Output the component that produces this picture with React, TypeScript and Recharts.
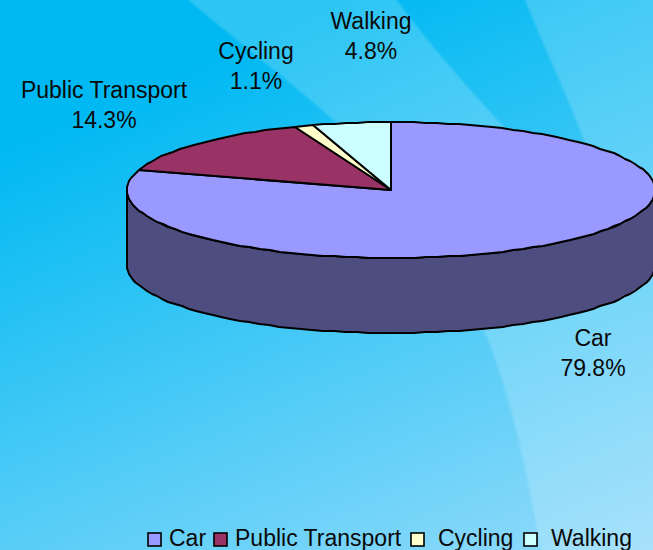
import React from 'react';
import { PieChart, Pie, Legend } from 'recharts';

const categories = ['Car', 'Public Transport', 'Cycling', 'Walking'];
const shares = [79.8, 14.3, 1.1, 4.8];
const topColors = ['#9999FF', '#993366', '#FFFFCC', '#CCFFFF'];
const sideColors = ['#4D4D80', '#4D1A33', '#808066', '#668080'];

// where each label's centre sits, [x, first baseline]
const labelSpots = [[593, 346], [104, 98], [256, 59], [371, 29]];
// legend swatch x and text x
const legendSpots = [[148, 169], [214, 235], [411, 438], [524, 551]];

const WIDTH = 653;
const HEIGHT = 550;
const SQUASH = 68 / 264;
const DEPTH = 75;
const FONT = '"Liberation Sans", Arial, sans-serif';

const topData = categories.map((name, i) => ({ name, value: shares[i], fill: topColors[i] }));
const sideData = categories.map((name, i) => ({ name, value: shares[i], fill: sideColors[i] }));

// slightly coarse polyline, like the old office renderer
const arcPoints = (cx: number, cy: number, r: number, from: number, to: number) => {
  const steps = Math.max(1, Math.ceil(Math.abs(to - from) / 2.5));
  const pts: string[] = [];
  for (let i = 0; i <= steps; i++) {
    const a = ((from + ((to - from) * i) / steps) * Math.PI) / 180;
    pts.push(`${Math.round(cx + r * Math.cos(a))} ${Math.round(cy - r * SQUASH * Math.sin(a))}`);
  }
  return pts;
};

const TopSlice = (props: any) => {
  const { cx, cy, outerRadius, startAngle, endAngle, fill } = props;
  const pts = arcPoints(cx, cy, outerRadius, startAngle, endAngle);
  return (
    <path
      d={`M${cx} ${cy}L${pts.join('L')}Z`}
      fill={fill}
      stroke="#000"
      strokeWidth={2}
      strokeLinejoin="round"
    />
  );
};

const SideSlice = (props: any) => {
  const { cx, cy, outerRadius, startAngle, endAngle, fill } = props;
  // only the front half of the rim can be seen
  const from = Math.min(startAngle, 0);
  const to = Math.max(endAngle, -180);
  if (from <= to) return <g />;
  const upper = arcPoints(cx, cy, outerRadius, from, to);
  const lower = arcPoints(cx, cy + DEPTH, outerRadius, to, from);
  return (
    <path
      d={`M${upper.join('L')}L${lower.join('L')}Z`}
      fill={fill}
      stroke="#000"
      strokeWidth={2}
      strokeLinejoin="round"
    />
  );
};

const renderLabel = (props: any) => {
  const i = categories.indexOf(props.name);
  const [x, y] = labelSpots[i];
  return (
    <text x={x} y={y} textAnchor="middle" fontFamily={FONT} fontSize={23} fill="#0a0a0a">
      <tspan x={x}>{props.name}</tspan>
      <tspan x={x} dy={30}>{`${props.value}%`}</tspan>
    </text>
  );
};

const LegendRow = () => (
  <svg width={WIDTH} height={30} style={{ display: 'block' }}>
    {categories.map((name, i) => (
      <g key={name}>
        <rect x={legendSpots[i][0]} y={13} width={13} height={13} fill={topColors[i]} stroke="#000" strokeWidth={1.6} />
        <text x={legendSpots[i][1]} y={26} fontFamily={FONT} fontSize={23} fill="#0a0a0a">{name}</text>
      </g>
    ))}
  </svg>
);

const Backdrop = () => (
  <svg width={WIDTH} height={HEIGHT} style={{ position: 'absolute', left: 0, top: 0 }}>
    <defs>
      <linearGradient id="sky" gradientUnits="userSpaceOnUse" x1={230} y1={50} x2={480} y2={640}>
        <stop offset="0" stopColor="#00B9F2" />
        <stop offset="1" stopColor="#98DCFB" />
      </linearGradient>
      <filter id="soft" x="-5%" y="-5%" width="110%" height="110%">
        <feGaussianBlur stdDeviation={1.2} />
      </filter>
    </defs>
    <rect width={WIDTH} height={HEIGHT} fill="url(#sky)" />
    <path
      d="M183 -5C240 45 290 80 333 120C410 195 465 280 490 345C515 410 530 490 543 560L670 560L670 -5L523 -5C545 50 565 90 580 130C595 170 605 195 615 235C580 190 540 165 507 130C465 85 430 45 393 -5Z"
      fill="#fff"
      fillOpacity={0.18}
      filter="url(#soft)"
    />
  </svg>
);

export default function App() {
  return (
    <div style={{ position: 'absolute', left: 0, top: 0, width: WIDTH, height: HEIGHT, overflow: 'hidden' }}>
      <Backdrop />
      <div style={{ position: 'absolute', left: 0, top: 0 }}>
        <PieChart width={WIDTH} height={HEIGHT} margin={{ top: 0, right: 0, bottom: 0, left: 0 }}>
          <Pie
            data={sideData}
            dataKey="value"
            nameKey="name"
            cx={391}
            cy={190}
            outerRadius={264}
            startAngle={90}
            endAngle={-270}
            shape={SideSlice}
            label={false}
            labelLine={false}
            isAnimationActive={false}
          />
          <Pie
            data={topData}
            dataKey="value"
            nameKey="name"
            cx={391}
            cy={190}
            outerRadius={264}
            startAngle={90}
            endAngle={-270}
            shape={TopSlice}
            label={renderLabel}
            labelLine={false}
            isAnimationActive={false}
          />
          <Legend
            content={<LegendRow />}
            wrapperStyle={{ position: 'absolute', left: 0, bottom: 0, width: WIDTH, height: 30 }}
          />
        </PieChart>
      </div>
    </div>
  );
}
